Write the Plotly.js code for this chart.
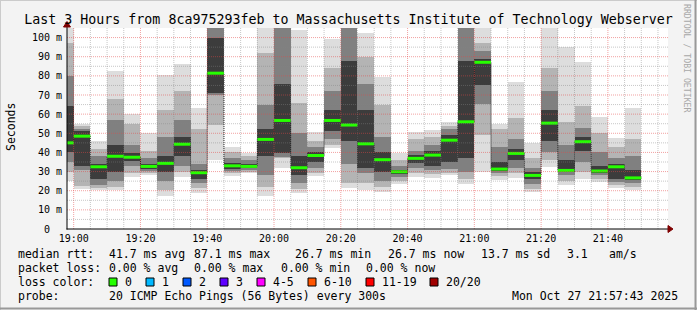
<!DOCTYPE html>
<html><head><meta charset="utf-8">
<script src="https://cdn.plot.ly/plotly-3.0.1.min.js"></script>
<style>html,body{margin:0;padding:0;background:#f3f3f3;}#chart{width:697px;height:310px;}</style>
</head><body><div id="chart"></div>
<script>
// ---- data (5-minute intervals; value = start of interval) ----
const barStarts = ["18:55","19:00","19:05","19:10","19:15","19:20","19:25","19:30","19:35","19:40",
  "19:45","19:50","19:55","20:00","20:05","20:10","20:15","20:20","20:25","20:30",
  "20:35","20:40","20:45","20:50","20:55","21:00","21:05","21:10","21:15","21:20",
  "21:25","21:30","21:35","21:40","21:45"];
// smoke bands (ms), outermost to innermost
const rttMin   = [25,21,20.3,20.5,27,28.2,17.4,27.3,19,36,27.8,29,17,31.7,18.6,27.8,42.4,21.2,20.3,19.5,23.3,27.3,26.4,28,23.3,30,25.6,26.8,19.5,32.5,23,26,24.7,21.6,20.3];
const band2Lo  = [30,22.5,21.5,22,29,29.5,20.5,30,21.5,54.3,29,30,22,36.9,21,29,44,24,24,22,25,29,28.5,29.5,26,49,27.5,29,21,36,25,30,26,23,22];
const band3Lo  = [35,31,23,25,33,30.5,25,33,24,70,30.5,31,28,37.5,24,32,47,34,29,25,27,32,31,31.5,30,65.5,29,32,23.5,40,28,35,28,24.5,24];
const band4Lo  = [40,33,26,30,35.5,31.5,30,38,26,70.8,31.5,31.8,38,39.5,28,35,51,46,32,30,28.5,34.5,33,35,37,75,30.5,36,26,46,30,41,29.5,26,25.5];
const rttMedian= [45,48.5,32.5,38,37.5,32.7,34.3,44.3,29.4,81.4,33,32.7,46.8,56.7,32,38.4,56.7,54.3,44.5,36.2,29.9,36.9,38.6,46.4,56,87.1,31.3,39.5,28,55.3,30.6,45.6,30.3,32.5,26.7];
const band4Hi  = [64,51,34,44,39.5,34,38,48,31,100,34.5,34,52,76,38,40,62,88,62,40,31,38.5,41,49,88,89,35,42,30,62,36,48,33,34,31];
const band3Hi  = [80,52.5,38,57,44,37,48,57,34,110,37,36,65,110,50,43,72,110,76,48,33,41,44,52,110,93,43,47,32,72,44,53,40,37,38];
const band2Hi  = [97,54,42,68,55,41,62,72,52,112,40,38,92,112,66,46,84,112,90,64.7,36,47,48,54,112,97,52,58,37,84,56,64,50,43,47];
const rttMax   = [110,55,46,82.5,60,50.4,80.3,86,63,115,43,39.5,110,115,104,50.8,99.5,115,102.6,79.5,39.5,50.8,51.6,56,115,110,55,77,44.7,106,95,87.3,58.6,47.3,63.3];
const yTickVals = [0,10,20,30,40,50,60,70,80,90,100];
const yTickText = ["0\u00a0\u00a0","10 m","20 m","30 m","40 m","50 m","60 m","70 m","80 m","90 m","100 m"];
const xTickText = ["19:00","19:20","19:40","20:00","20:20","20:40","21:00","21:20","21:40"];
const statsRtt = ["41.7 ms avg","87.1 ms max","26.7 ms min","26.7 ms now","13.7 ms sd","3.1","am/s"];
const statsLoss = ["0.00 % avg","0.00 % max","0.00 % min","0.00 % now"];
const lossLabels = ["0","1","2","3","4-5","6-10","11-19","20/20"];
const lossColors = ["#26ff00","#00b8ff","#0059ff","#5e00ff","#ff00ff","#ff5500","#ff0000","#a00000"];
const probeText = "20 ICMP Echo Pings (56 Bytes) every 300s";
const stampText = "Mon Oct 27 21:57:43 2025";

// ---- helpers ----
const toMs = s => { const [h,m] = s.split(":").map(Number); return Date.UTC(2025,9,27,h,m); };
const STEP = 5*60*1000;
const xs = barStarts.map(toMs);
const L = 67, T = 28, W = 601, H = 201;
const px = v => (v - L) / W;
const py = v => (T + H - v) / H;
const FONT = "DejaVu Sans Mono";

const layers = [
  [rttMin, rttMax, "#dddddd"],
  [band2Lo, band2Hi, "#b4b4b4"],
  [band3Lo, band3Hi, "#808080"],
  [band4Lo, band4Hi, "#3c3c3c"]
];
const traces = layers.map(([lo, hi, c]) => ({
  type: "bar", x: xs, base: lo, y: hi.map((h, i) => h - lo[i]),
  width: STEP, offset: 0, marker: {color: c, line: {width: 0}},
  hoverinfo: "skip", showlegend: false
}));
// median step line (dotted connectors)
traces.push({
  type: "scatter", mode: "lines",
  x: xs.concat([xs[xs.length-1] + STEP]), y: rttMedian.concat([rttMedian[rttMedian.length-1]]),
  line: {shape: "hv", color: "#202020", width: 1, dash: "1px,1px"},
  hoverinfo: "skip", showlegend: false
});
// green median segments
const gx = [], gy = [];
xs.forEach((x, i) => { gx.push(x, x + STEP, null); gy.push(rttMedian[i], rttMedian[i], null); });
traces.push({type: "scatter", mode: "lines", x: gx, y: gy,
  line: {color: lossColors[0], width: 3}, hoverinfo: "skip", showlegend: false});

// ---- grid as shapes drawn above (rrdtool style) ----
const shapes = [];
const xStart = toMs("18:58"), xEnd = toMs("21:58");
const majorCol = "rgba(230,70,70,0.5)", minorCol = "rgba(130,130,130,0.45)";
for (let t = toMs("19:00"); t < xEnd; t += STEP) {
  const major = ((t - toMs("19:00")) % (4*STEP)) === 0;
  shapes.push({type: "line", xref: "x", yref: "paper", x0: t, x1: t, y0: 0, y1: 1, layer: "above",
    line: {color: major ? majorCol : minorCol, width: 1, dash: "1px,1px"}});
}
for (let v = 5; v < 105; v += 5) {
  const major = v % 10 === 0;
  shapes.push({type: "line", xref: "paper", yref: "y", x0: 0, x1: 1, y0: v, y1: v, layer: "above",
    line: {color: major ? majorCol : minorCol, width: 1, dash: "1px,1px"}});
}
// axes
shapes.push({type: "line", xref: "paper", yref: "paper", x0: px(66.5), x1: px(669), y0: py(229), y1: py(229), layer: "above", line: {color: "#000", width: 1}});
shapes.push({type: "line", xref: "paper", yref: "paper", x0: px(67), x1: px(67), y0: py(229.5), y1: py(25), layer: "above", line: {color: "#000", width: 1}});
shapes.push({type: "path", xref: "paper", yref: "paper", layer: "above",
  path: `M ${px(668)},${py(225.5)} L ${px(673)},${py(229)} L ${px(668)},${py(232.5)} Z`,
  fillcolor: "#7f0000", line: {color: "#7f0000", width: 1}});
shapes.push({type: "path", xref: "paper", yref: "paper", layer: "above",
  path: `M ${px(63.5)},${py(27)} L ${px(67)},${py(21.5)} L ${px(70.5)},${py(27)} Z`,
  fillcolor: "#7f0000", line: {color: "#7f0000", width: 1}});
// frame
shapes.push({type: "line", xref: "paper", yref: "paper", x0: px(0), x1: px(697), y0: py(0.5), y1: py(0.5), line: {color: "#cbcbcb", width: 1}});
shapes.push({type: "line", xref: "paper", yref: "paper", x0: px(0.5), x1: px(0.5), y0: py(0), y1: py(310), line: {color: "#cbcbcb", width: 1}});
shapes.push({type: "line", xref: "paper", yref: "paper", x0: px(0), x1: px(697), y0: py(308.5), y1: py(308.5), line: {color: "#999", width: 2}});
shapes.push({type: "line", xref: "paper", yref: "paper", x0: px(695.5), x1: px(695.5), y0: py(0), y1: py(310), line: {color: "#999", width: 2}});

// ---- legend text ----
const annotations = [];
const txt = (x, y, text, opts = {}) => annotations.push(Object.assign({
  xref: "paper", yref: "paper", x: px(x), y: py(y), text: text, showarrow: false,
  xanchor: "left", yanchor: "middle", font: {family: FONT, size: 11.5, color: "#000"}
}, opts));
txt(16, 254, "median rtt:");
const rttX = [107, 192, 293, 386, 479, 565, 607];
statsRtt.forEach((s, i) => txt(rttX[i], 254, s));
txt(16, 268, "packet loss:");
const lossX = [107, 192, 279, 364];
statsLoss.forEach((s, i) => txt(lossX[i], 268, s));
txt(16, 282, "loss color:");
const boxX = [109, 146, 183, 220, 257, 308, 366, 430];
lossLabels.forEach((s, i) => {
  shapes.push({type: "rect", xref: "paper", yref: "paper", x0: px(boxX[i]), x1: px(boxX[i] + 8),
    y0: py(278), y1: py(286), fillcolor: lossColors[i], line: {color: "#000", width: 1}});
  txt(boxX[i] + 14, 282, s);
});
txt(16, 296, "probe:");
txt(107, 296, probeText);
txt(680, 296, stampText, {xanchor: "right"});
txt(11, 127, "Seconds", {xanchor: "center", textangle: -90, font: {family: FONT, size: 11.5, color: "#000"}});
txt(687, 58, "RRDTOOL / TOBI OETIKER", {xanchor: "center", textangle: 90, font: {family: FONT, size: 8.2, color: "#a8a8a8"}});

const layout = {
  width: 697, height: 310,
  margin: {l: L, r: 697 - L - W, t: T, b: 310 - T - H, pad: 0},
  paper_bgcolor: "#f3f3f3", plot_bgcolor: "#ffffff",
  barmode: "overlay", bargap: 0, showlegend: false,
  title: {text: "Last 3 Hours from 8ca975293feb to Massachusetts Institute of Technology Webserver",
    font: {family: FONT, size: 13.3, color: "#000"}, xref: "container", x: 0.5, xanchor: "center",
    yref: "container", y: 1 - 19/310, yanchor: "middle"},
  xaxis: {type: "date", range: [xStart, xEnd], tickmode: "array",
    tickvals: xTickText.map(toMs), ticktext: xTickText,
    showgrid: false, zeroline: false, showline: false, ticks: "",
    tickfont: {family: FONT, size: 10, color: "#000"}, ticklabelstandoff: 2},
  yaxis: {range: [0, 105], tickmode: "array", tickvals: yTickVals, ticktext: yTickText,
    showgrid: false, zeroline: false, showline: false, ticks: "",
    tickfont: {family: FONT, size: 10, color: "#000"}, ticklabelstandoff: 4},
  shapes: shapes, annotations: annotations
};
Plotly.newPlot("chart", traces, layout, {staticPlot: true, displayModeBar: false});
</script></body></html>
